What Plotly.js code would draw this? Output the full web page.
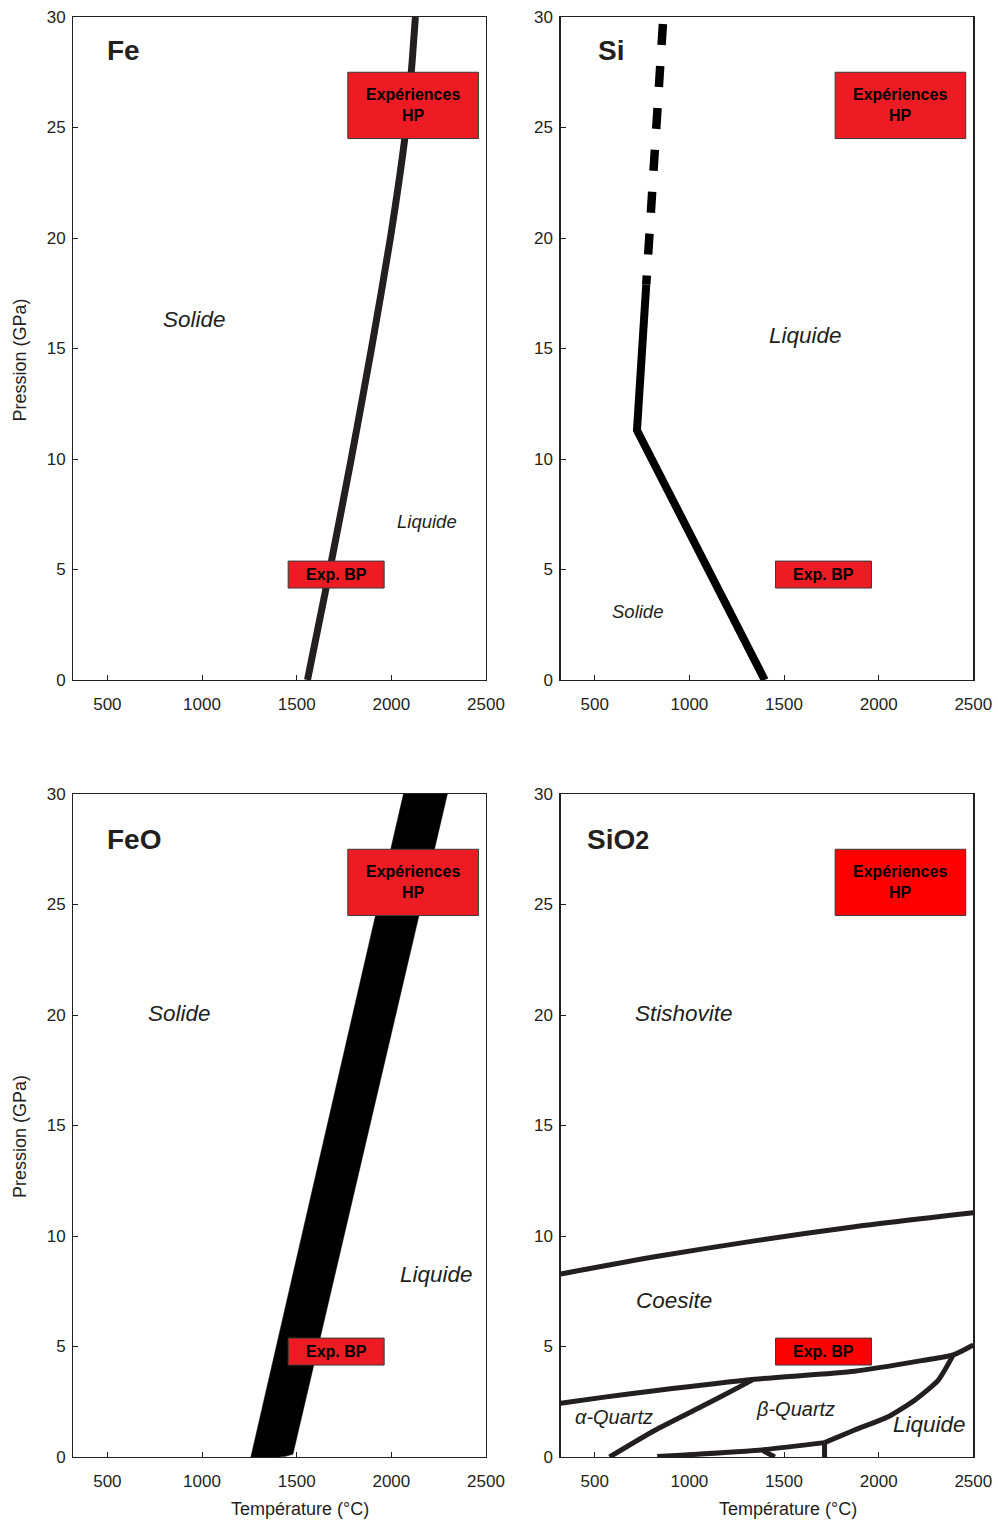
<!DOCTYPE html>
<html>
<head>
<meta charset="utf-8">
<script src="https://cdn.plot.ly/plotly-3.0.1.min.js"></script>
<style>
html,body{margin:0;padding:0;background:#fff;}
#chart{width:998px;height:1524px;}
</style>
</head>
<body>
<div id="chart"></div>
<script>
// ---------- data ----------
const tempTicks = [500, 1000, 1500, 2000, 2500];
const presTicks = [0, 5, 10, 15, 20, 25, 30];

// Fe melting curve
const feT = [1557, 1675, 1788, 1895, 1995, 2078, 2110, 2127];
const feP = [0, 5, 10, 15, 20, 25, 28, 30];

// Si melting curve (solid part and extrapolated dashed part)
const siSolidT = [1398, 723, 772];
const siSolidP = [0, 11.3, 17.9];
const siDashT = [860, 772];
const siDashP = [29.68, 17.9];

// FeO melting band (polygon)
const feoBandT = [1258, 2064, 2296, 1480, 1440, 1404, 1258];
const feoBandP = [0, 30, 30, 0.12, 0.03, 0, 0];

// SiO2 phase boundaries
const stishCoesT = [320, 816, 1344, 1873, 2500];
const stishCoesP = [8.28, 9.06, 9.78, 10.42, 11.05];
const coesQuartzT = [320, 551, 816, 1344, 1873, 2227, 2394, 2500];
const coesQuartzP = [2.43, 2.71, 3.0, 3.52, 3.88, 4.36, 4.62, 5.07];
const alphaBetaT = [578, 816, 1080, 1257, 1336];
const alphaBetaP = [0, 1.2, 2.35, 3.14, 3.5];
const betaLiqT = [1714, 1873, 2050, 2192, 2315, 2394];
const betaLiqP = [0.65, 1.22, 1.82, 2.58, 3.48, 4.62];
const lowLineT = [830, 1345, 1714];
const lowLineP = [0.02, 0.29, 0.65];
const stubT = [1389, 1451];
const stubP = [0.29, 0];
const vertT = [1714, 1714];
const vertP = [0, 0.65];

// experiment boxes (temperature / pressure extent)
const hpBoxT = [1770, 2460];
const hpBoxP = [24.5, 27.5];
const bpBoxT = [1455, 1962];
const bpBoxP = [4.16, 5.38];

// ---------- layout helpers ----------
const W = 998, H = 1524;
const px = v => v / W;
const py = v => 1 - v / H;
const ink = '#231f20';
const FONT = 'Liberation Sans, Arial, Helvetica, sans-serif';

function xAxis(domain, anchor) {
  return {
    domain: domain, anchor: anchor, range: [320, 2500],
    tickvals: tempTicks, ticktext: tempTicks.map(String),
    ticks: 'inside', ticklen: 5, tickwidth: 1, tickcolor: ink,
    showline: true, mirror: true, linecolor: ink, linewidth: 1.3,
    showgrid: false, zeroline: false, fixedrange: true,
    tickfont: {family: FONT, size: 17, color: ink},
    ticklabelstandoff: 8
  };
}
function yAxis(domain, anchor) {
  return {
    domain: domain, anchor: anchor, range: [0, 30],
    tickvals: presTicks, ticktext: presTicks.map(String),
    ticks: 'inside', ticklen: 5, tickwidth: 1, tickcolor: ink,
    showline: true, mirror: true, linecolor: ink, linewidth: 1.3,
    showgrid: false, zeroline: false, fixedrange: true,
    tickfont: {family: FONT, size: 17, color: ink},
    ticklabelstandoff: 3
  };
}

const xLeft = [px(73.3), px(486)];
const xRight = [px(560.7), px(973.3)];
const yTop = [py(680), py(17)];
const yBot = [py(1457), py(794)];

function line(x, y, xa, ya, color, width, dash) {
  return {
    type: 'scatter', mode: 'lines', x: x, y: y, xaxis: xa, yaxis: ya,
    line: {color: color, width: width, dash: dash || 'solid', shape: 'spline', smoothing: 0.6},
    hoverinfo: 'skip', showlegend: false
  };
}
function straight(x, y, xa, ya, color, width, dash) {
  const t = line(x, y, xa, ya, color, width, dash);
  t.line.shape = 'linear';
  return t;
}

const traces = [
  line(feT, feP, 'x', 'y', ink, 7),
  straight(siSolidT, siSolidP, 'x2', 'y2', '#000', 8),
  straight(siDashT, siDashP, 'x2', 'y2', '#000', 8.5, '21px,21px'),
  {
    type: 'scatter', mode: 'lines', x: feoBandT, y: feoBandP, xaxis: 'x3', yaxis: 'y3',
    fill: 'toself', fillcolor: '#000', line: {color: '#000', width: 0.5},
    hoverinfo: 'skip', showlegend: false
  },
  line(stishCoesT, stishCoesP, 'x4', 'y4', ink, 5),
  line(coesQuartzT, coesQuartzP, 'x4', 'y4', ink, 5),
  line(alphaBetaT, alphaBetaP, 'x4', 'y4', ink, 5),
  line(betaLiqT, betaLiqP, 'x4', 'y4', ink, 5),
  line(lowLineT, lowLineP, 'x4', 'y4', ink, 5),
  line(stubT, stubP, 'x4', 'y4', ink, 5),
  straight(vertT, vertP, 'x4', 'y4', ink, 5)
];

// boxes
const panels = [
  {xa: 'x', ya: 'y', red: '#ed1c24'},
  {xa: 'x2', ya: 'y2', red: '#ed1c24'},
  {xa: 'x3', ya: 'y3', red: '#ed1c24'},
  {xa: 'x4', ya: 'y4', red: '#ff0000'}
];
const shapes = [];
const annotations = [];
panels.forEach(p => {
  shapes.push({type: 'rect', xref: p.xa, yref: p.ya, x0: hpBoxT[0], x1: hpBoxT[1], y0: hpBoxP[0], y1: hpBoxP[1],
    fillcolor: p.red, line: {color: '#3a3a3a', width: 1}, layer: 'above'});
  shapes.push({type: 'rect', xref: p.xa, yref: p.ya, x0: bpBoxT[0], x1: bpBoxT[1], y0: bpBoxP[0], y1: bpBoxP[1],
    fillcolor: p.red, line: {color: '#3a3a3a', width: 1}, layer: 'above'});
  annotations.push({xref: p.xa, yref: p.ya, x: (hpBoxT[0] + hpBoxT[1]) / 2, y: (hpBoxP[0] + hpBoxP[1]) / 2,
    text: '<b>Expériences<br>HP</b>', showarrow: false, font: {family: FONT, size: 16, color: '#000'}, align: 'center'});
  annotations.push({xref: p.xa, yref: p.ya, x: (bpBoxT[0] + bpBoxT[1]) / 2, y: (bpBoxP[0] + bpBoxP[1]) / 2,
    text: '<b>Exp. BP</b>', showarrow: false, font: {family: FONT, size: 16, color: '#000'}});
});

function label(xa, ya, x, y, text, size, opts) {
  const a = Object.assign({xref: xa, yref: ya, x: x, y: y, text: text, showarrow: false,
    xanchor: 'center', yanchor: 'middle',
    font: {family: FONT, size: size, color: ink}}, opts || {});
  annotations.push(a);
}
// panel titles
label('x', 'y', 490, 28.5, '<b>Fe</b>', 28, {xanchor: 'left'});
label('x2', 'y2', 505, 28.5, '<b>Si</b>', 28, {xanchor: 'left'});
label('x3', 'y3', 490, 27.92, '<b>FeO</b>', 28, {xanchor: 'left'});
label('x4', 'y4', 448, 27.92, '<b>SiO<span style="font-size:25px">2</span></b>', 28, {xanchor: 'left'});
// phase labels
label('x', 'y', 959, 16.33, '<i>Solide</i>', 22.5);
label('x', 'y', 2189, 7.15, '<i>Liquide</i>', 18.5);
label('x2', 'y2', 1615, 15.6, '<i>Liquide</i>', 22.5);
label('x2', 'y2', 726, 3.12, '<i>Solide</i>', 18.5);
label('x3', 'y3', 880, 20.05, '<i>Solide</i>', 22.5);
label('x3', 'y3', 2241, 8.28, '<i>Liquide</i>', 22.5);
label('x4', 'y4', 969, 20.05, '<i>Stishovite</i>', 22.5);
label('x4', 'y4', 916, 7.1, '<i>Coesite</i>', 22.5);
label('x4', 'y4', 604, 1.83, '<i>α-Quartz</i>', 20);
label('x4', 'y4', 1561, 2.15, '<i>β-Quartz</i>', 20);
label('x4', 'y4', 2271, 1.45, '<i>Liquide</i>', 22.5);

// axis titles
[360.5, 1137].forEach(cy => {
  annotations.push({xref: 'paper', yref: 'paper', x: px(20), y: py(cy), text: 'Pression (GPa)', showarrow: false,
    xanchor: 'center', yanchor: 'middle',
    textangle: -90, font: {family: FONT, size: 18, color: ink}});
});
[299.5, 787.5].forEach(cx => {
  annotations.push({xref: 'paper', yref: 'paper', x: px(cx), y: py(1509), text: 'Température (°C)', showarrow: false,
    xanchor: 'center', yanchor: 'middle',
    font: {family: FONT, size: 18, color: ink}});
});

const layout = {
  width: W, height: H,
  margin: {l: 0, r: 0, t: 0, b: 0},
  paper_bgcolor: '#fff', plot_bgcolor: '#fff',
  showlegend: false,
  xaxis: xAxis(xLeft, 'y'), yaxis: yAxis(yTop, 'x'),
  xaxis2: xAxis(xRight, 'y2'), yaxis2: yAxis(yTop, 'x2'),
  xaxis3: xAxis(xLeft, 'y3'), yaxis3: yAxis(yBot, 'x3'),
  xaxis4: xAxis(xRight, 'y4'), yaxis4: yAxis(yBot, 'x4'),
  shapes: shapes,
  annotations: annotations
};

Plotly.newPlot('chart', traces, layout, {displayModeBar: false, staticPlot: true});
</script>
</body>
</html>
